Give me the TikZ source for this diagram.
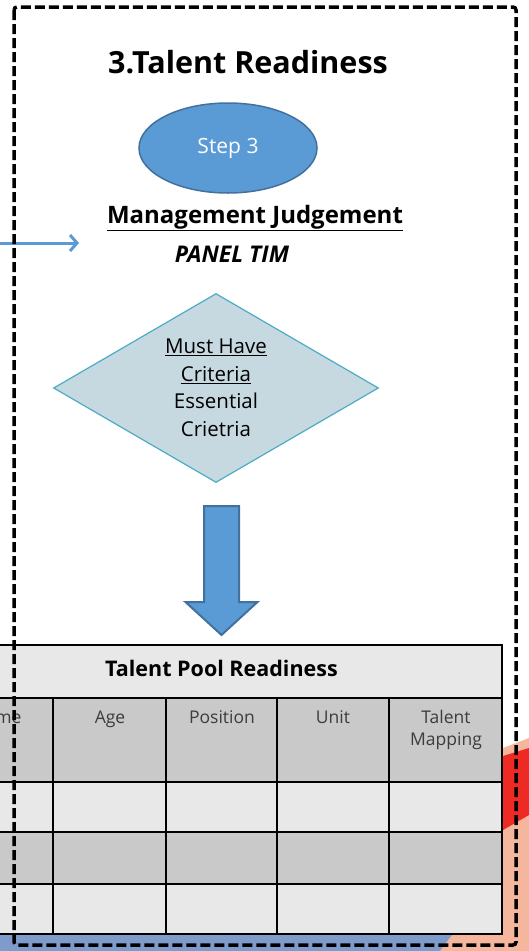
\documentclass[tikz,border=0pt]{standalone}
\usepackage{fontspec}
\setmainfont{Open Sans}
\usetikzlibrary{shapes.geometric,arrows.meta,positioning}
\definecolor{stepblue}{HTML}{5B9BD5}
\definecolor{stepedge}{HTML}{41719C}
\definecolor{critfill}{HTML}{C6D9E0}
\definecolor{critedge}{HTML}{4BACC6}
\definecolor{rowlight}{HTML}{E8E8E8}
\definecolor{rowdark}{HTML}{C9C9C9}
\definecolor{hdrtext}{HTML}{3C3C3C}
\definecolor{bgred}{HTML}{EE2A24}
\definecolor{bgsalmon}{HTML}{F4B69C}
\definecolor{bgblue}{HTML}{7F9BCB}

\begin{document}
\begin{tikzpicture}[x=1pt,y=-1pt,
    colhead/.style={anchor=north,text=hdrtext,align=center,
      font=\fontsize{17.5}{22}\selectfont}]
    \useasboundingbox (0,0) rectangle (529,951);
    \clip (0,0) rectangle (529,951);
    %
    \fill[bgsalmon] (503,748) -- (529,738) -- (529,951) -- (440,951) -- (452,935) -- (503,935) -- cycle;
    \fill[bgred] (503,756) -- (529,748) -- (529,815) -- (503,830) -- cycle;
    \fill[bgblue] (0,935) -- (452,935) -- (440,951) -- (0,951) -- cycle;
    %
    \node[font=\bfseries\fontsize{30.5}{36}\selectfont] (title) at (248,62) {3.Talent Readiness};
    \node[ellipse,fill=stepblue,draw=stepedge,line width=1.5,minimum width=178,minimum height=90,
      text=white,font=\fontsize{21}{25}\selectfont] (step) at (228,148) {Step 3};
    \node[font=\bfseries\fontsize{24}{28}\selectfont] (mgmt) at (255,218) {\underline{Management Judgement}};
    \node[font=\bfseries\itshape\fontsize{23}{27}\selectfont] (panel) at (232,254) {PANEL TIM};
    \coordinate (feed) at (0,243);
    \coordinate (feedtip) at (79,243);
    \draw[stepblue,line width=3,-{Straight Barb[length=7pt,width=16pt]}] (feed) -- (feedtip);
    %
    \node[diamond,aspect=1.72,inner sep=0,fill=critfill,draw=critedge,line width=1.2,
      minimum width=325,minimum height=189,align=center,
      font=\fontsize{20.5}{27.5}\selectfont] (crit) at (216,388)
      {\underline{Must Have}\\\underline{Criteria}\\Essential\\Crietria};
    % block arrow down to the table
    \coordinate (down) at (221.5,506);
    \draw[fill=stepblue,draw=stepedge,line width=2,line join=miter]
      (down) ++(-17.5,0) -- ++(35,0) -- ++(0,96) -- ++(18.5,0)
      -- ++(-36,33) -- ++(-36,-33) -- ++(18.5,0) -- cycle;
    %
    \fill[rowlight] (-59,645) rectangle (502,698);
    \foreach \ya/\yb/\c in {698/782/rowdark,782/832/rowlight,832/884/rowdark,884/934/rowlight}
      \fill[\c] (-59,\ya) rectangle (502,\yb);
    \draw[line width=2] (-59,645) rectangle (502,934);
    \foreach \y in {698,782,832,884}
      \draw[line width=2] (-59,\y) -- (502,\y);
    \foreach \x in {53,166,277,389}
      \draw[line width=2] (\x,698) -- (\x,934);
    \node[font=\bfseries\fontsize{21.5}{26}\selectfont] (pool) at (221.5,668) {Talent Pool Readiness};
    \node[colhead] (name) at (-3,707) {Name};
    \node[colhead] (age) at (110,707) {Age};
    \node[colhead] (pos) at (222,707) {Position};
    \node[colhead] (unit) at (333,707) {Unit};
    \node[colhead] (map) at (446,707) {Talent\\Mapping};
    %
    \draw[line width=3.5,dash pattern=on 10pt off 4pt,rounded corners=3] (14,7) rectangle (516,945);
  \end{tikzpicture}
\end{document}
